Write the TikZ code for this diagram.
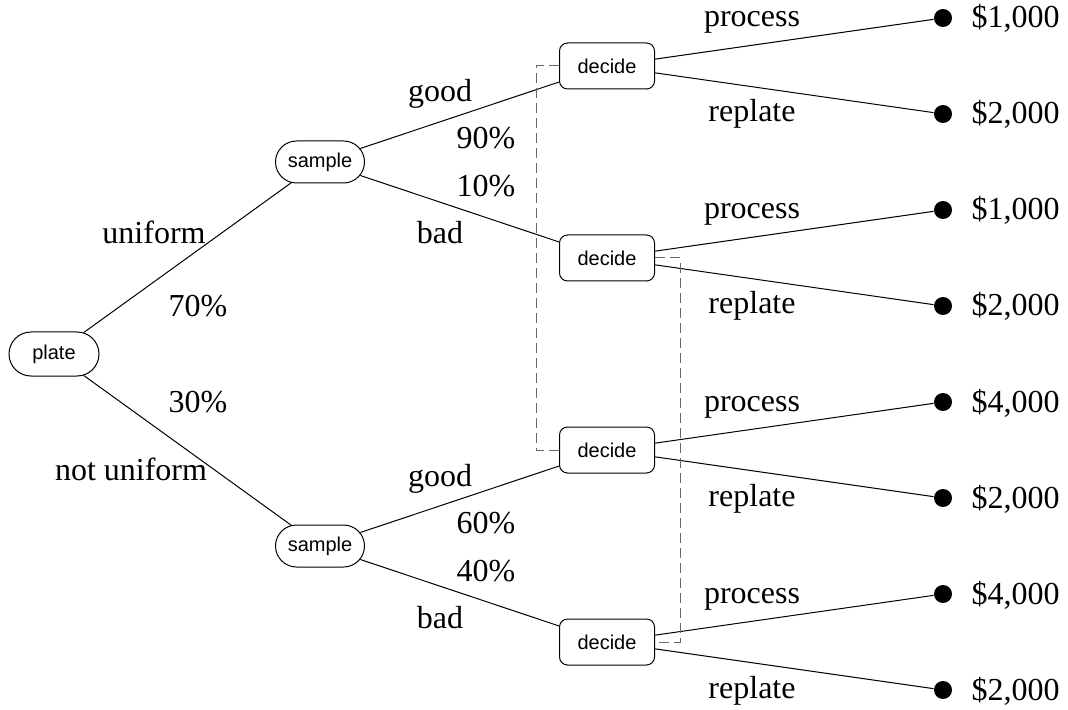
\documentclass[tikz,border=0pt]{standalone}
\usepackage{fontspec}
\setmainfont{Liberation Serif}
\setsansfont{Liberation Sans}
\usepackage{tikz}
\usetikzlibrary{shapes.misc}

\tikzset{
  chance/.style={draw, rounded rectangle, inner sep=1pt, minimum height=21pt,
    font=\sffamily\fontsize{10}{12}\selectfont},
  decision/.style={draw, rectangle, rounded corners=4pt, minimum width=47.5pt,
    minimum height=23pt, font=\sffamily\fontsize{10}{12}\selectfont},
  leaf/.style={circle, fill, inner sep=0pt, minimum size=9pt},
  lbl/.style={anchor=base, inner sep=0pt, font=\fontsize{16}{19}\selectfont},
  info/.style={draw=black!60, dash pattern=on 5pt off 2.5pt}
}

\begin{document}
\begin{tikzpicture}[x=0.5pt, y=-0.5pt, line width=0.5pt]

\useasboundingbox (0,0) rectangle (1068,710);

% Nodes
\node[chance, minimum width=47pt, minimum height=22pt] (plate) at (54,354) {plate};
\node[chance, minimum width=46.5pt] (s1) at (320,162) {sample};
\node[chance, minimum width=46.5pt] (s2) at (320,546) {sample};
\foreach \n/\y in {1/66,2/258,3/450,4/642}
{
    \node[decision] (d\n) at (607,\y) {decide};
}

% Outcomes
\foreach \n/\y/\k in {1/18/1,2/114/2,3/210/1,4/306/2,5/402/4,6/498/2,7/594/4,8/690/2}
{
    \node[leaf] (l\n) at (943,\y) {};
    \node[lbl, anchor=base west] (v\n) at (971,\y+10) {\$\k{,}000};
}

% Branches
\draw (plate) -- (s1);
\draw (plate) -- (s2);
\draw (s1) -- (d1);
\draw (s1) -- (d2);
\draw (s2) -- (d3);
\draw (s2) -- (d4);
\foreach \n/\a/\b in {1/1/2,2/3/4,3/5/6,4/7/8}
{
    \draw (d\n) -- (l\a);
    \draw (d\n) -- (l\b);
}

% Information sets
\draw[info] (d1.west) -- ++(-23,0) |- (d3.west);
\draw[info] (d2.east) -- ++(25,0) |- (d4.east);

% Labels
\node[lbl] (u) at (154,244) {uniform};
\node[lbl] (pu) at (198,317) {70\%};
\node[lbl] (pn) at (198,412) {30\%};
\node[lbl] (nu) at (131,480) {not uniform};
\node[lbl] (g1) at (440,102) {good};
\node[lbl] (pg1) at (486,149) {90\%};
\node[lbl] (pb1) at (486,197) {10\%};
\node[lbl] (b1) at (440,244) {bad};
\node[lbl] (g2) at (440,486) {good};
\node[lbl] (pg2) at (486,533) {60\%};
\node[lbl] (pb2) at (486,581) {40\%};
\node[lbl] (b2) at (440,628) {bad};
\foreach \n/\y/\t in {1/27/process,2/122/replate,3/219/process,4/314/replate,5/411/process,6/506/replate,7/603/process,8/698/replate}
{
    \node[lbl] (a\n) at (752,\y) {\t};
}

\end{tikzpicture}
\end{document}
